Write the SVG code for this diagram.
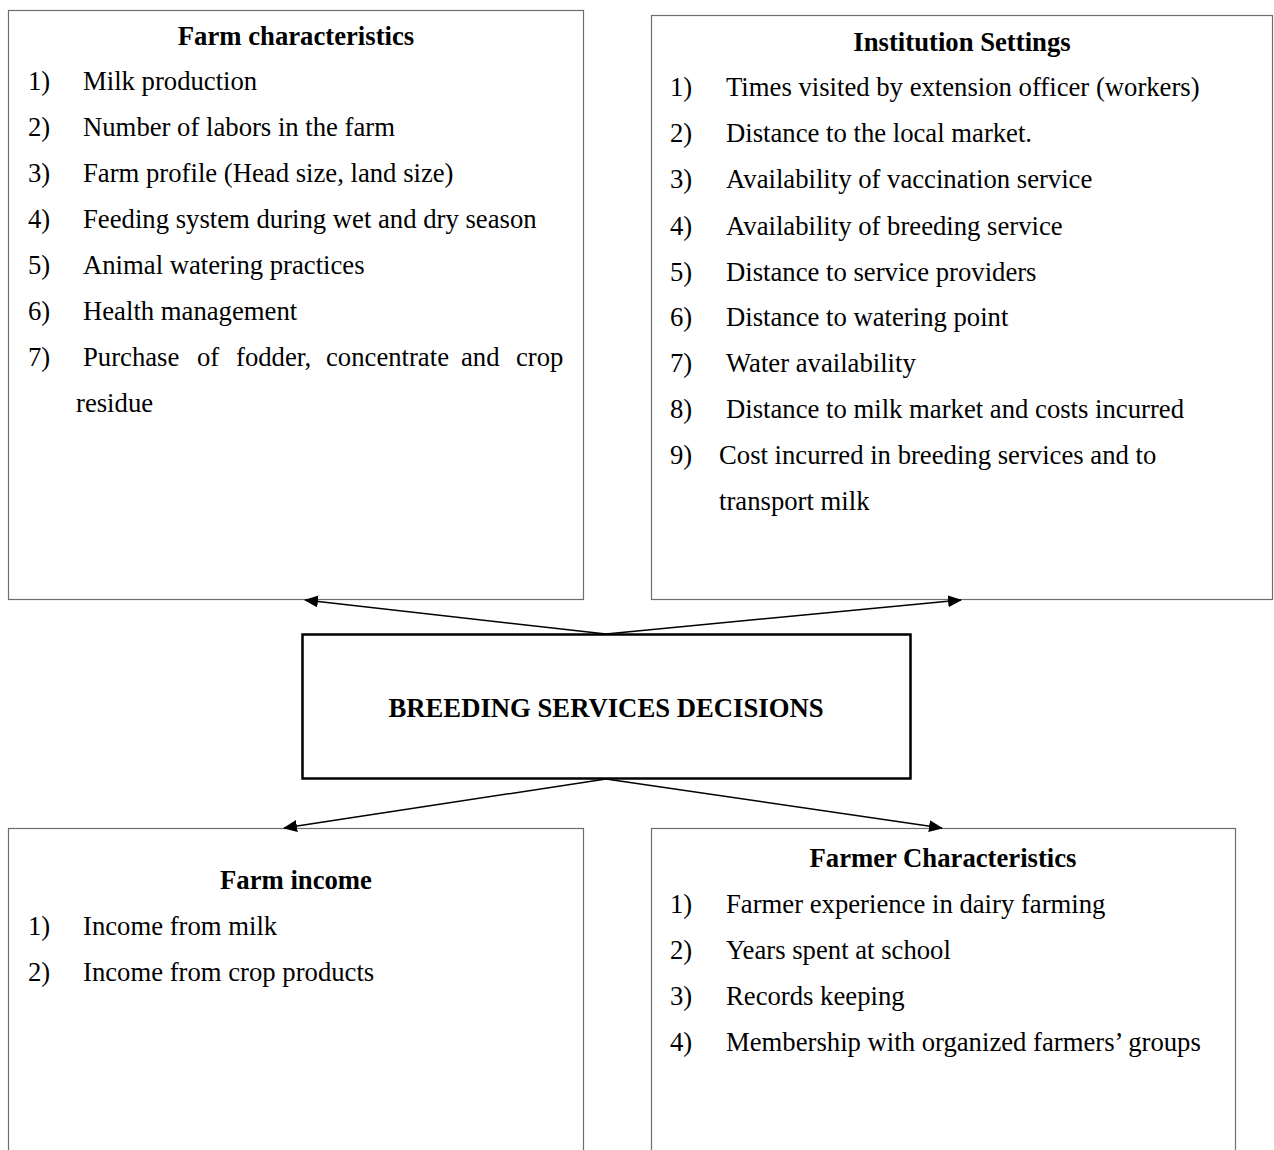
<svg xmlns="http://www.w3.org/2000/svg" width="1274" height="1150" viewBox="0 0 1274 1150">
  <style>
    .box { fill: #ffffff; stroke: #6e6e6e; stroke-width: 1.2; }
    .core { fill: #ffffff; stroke: #000000; stroke-width: 2.5; }
    text { font-family: "Liberation Serif", "Times New Roman", serif; font-size: 26.7px; fill: #000000; }
    .title { font-weight: bold; text-anchor: middle; }
    .link { stroke: #000000; stroke-width: 1.5; fill: none; marker-end: url(#arrow); }
  </style>
  <defs>
    <marker id="arrow" viewBox="0 0 14 12" refX="13" refY="6" markerWidth="14" markerHeight="12" markerUnits="userSpaceOnUse" orient="auto">
      <path d="M0,0 L14,6 L0,12 Z" fill="#000000"/>
    </marker>
  </defs>
  <rect width="1274" height="1150" fill="#ffffff"/>

  <g id="farm-characteristics">
    <rect class="box" x="8.5" y="10.5" width="575" height="589"/>
    <text class="title" x="296" y="45">Farm characteristics</text>
    <text x="28" y="90">1)</text><text x="83" y="90">Milk production</text>
    <text x="28" y="136">2)</text><text x="83" y="136">Number of labors in the farm</text>
    <text x="28" y="182">3)</text><text x="83" y="182">Farm profile (Head size, land size)</text>
    <text x="28" y="228">4)</text><text x="83" y="228">Feeding system during wet and dry season</text>
    <text x="28" y="274">5)</text><text x="83" y="274">Animal watering practices</text>
    <text x="28" y="320">6)</text><text x="83" y="320">Health management</text>
    <text x="28" y="366">7)</text>
    <text y="366"><tspan x="83">Purchase</tspan> <tspan x="197">of</tspan> <tspan x="236">fodder,</tspan> <tspan x="326">concentrate</tspan> <tspan x="461">and</tspan> <tspan x="516">crop</tspan></text>
    <text x="76" y="412">residue</text>
  </g>

  <g id="institution-settings">
    <rect class="box" x="651.5" y="15.5" width="621" height="584"/>
    <text class="title" x="962" y="51">Institution Settings</text>
    <text x="670" y="96">1)</text><text x="726" y="96">Times visited by extension officer (workers)</text>
    <text x="670" y="142">2)</text><text x="726" y="142">Distance to the local market.</text>
    <text x="670" y="188">3)</text><text x="726" y="188">Availability of vaccination service</text>
    <text x="670" y="235">4)</text><text x="726" y="235">Availability of breeding service</text>
    <text x="670" y="281">5)</text><text x="726" y="281">Distance to service providers</text>
    <text x="670" y="326">6)</text><text x="726" y="326">Distance to watering point</text>
    <text x="670" y="372">7)</text><text x="726" y="372">Water availability</text>
    <text x="670" y="418">8)</text><text x="726" y="418">Distance to milk market and costs incurred</text>
    <text x="670" y="464">9)</text><text x="719" y="464">Cost incurred in breeding services and to</text>
    <text x="719" y="510">transport milk</text>
  </g>

  <g id="breeding-services-decisions">
    <rect class="core" x="302.5" y="634.5" width="608" height="144"/>
    <text class="title" x="606" y="717">BREEDING SERVICES DECISIONS</text>
  </g>

  <g id="farm-income">
    <rect class="box" x="8.5" y="828.5" width="575" height="340"/>
    <text class="title" x="296" y="889">Farm income</text>
    <text x="28" y="935">1)</text><text x="83" y="935">Income from milk</text>
    <text x="28" y="981">2)</text><text x="83" y="981">Income from crop products</text>
  </g>

  <g id="farmer-characteristics">
    <rect class="box" x="651.5" y="828.5" width="584" height="340"/>
    <text class="title" x="943" y="867">Farmer Characteristics</text>
    <text x="670" y="913">1)</text><text x="726" y="913">Farmer experience in dairy farming</text>
    <text x="670" y="959">2)</text><text x="726" y="959">Years spent at school</text>
    <text x="670" y="1005">3)</text><text x="726" y="1005">Records keeping</text>
    <text x="670" y="1051">4)</text><text x="726" y="1051">Membership with organized farmers’ groups</text>
  </g>

  <g id="connectors">
    <line class="link" x1="606" y1="634" x2="305" y2="600"/>
    <line class="link" x1="606" y1="634" x2="961" y2="600"/>
    <line class="link" x1="606" y1="779" x2="284" y2="828"/>
    <line class="link" x1="606" y1="779" x2="942" y2="828"/>
  </g>
</svg>
